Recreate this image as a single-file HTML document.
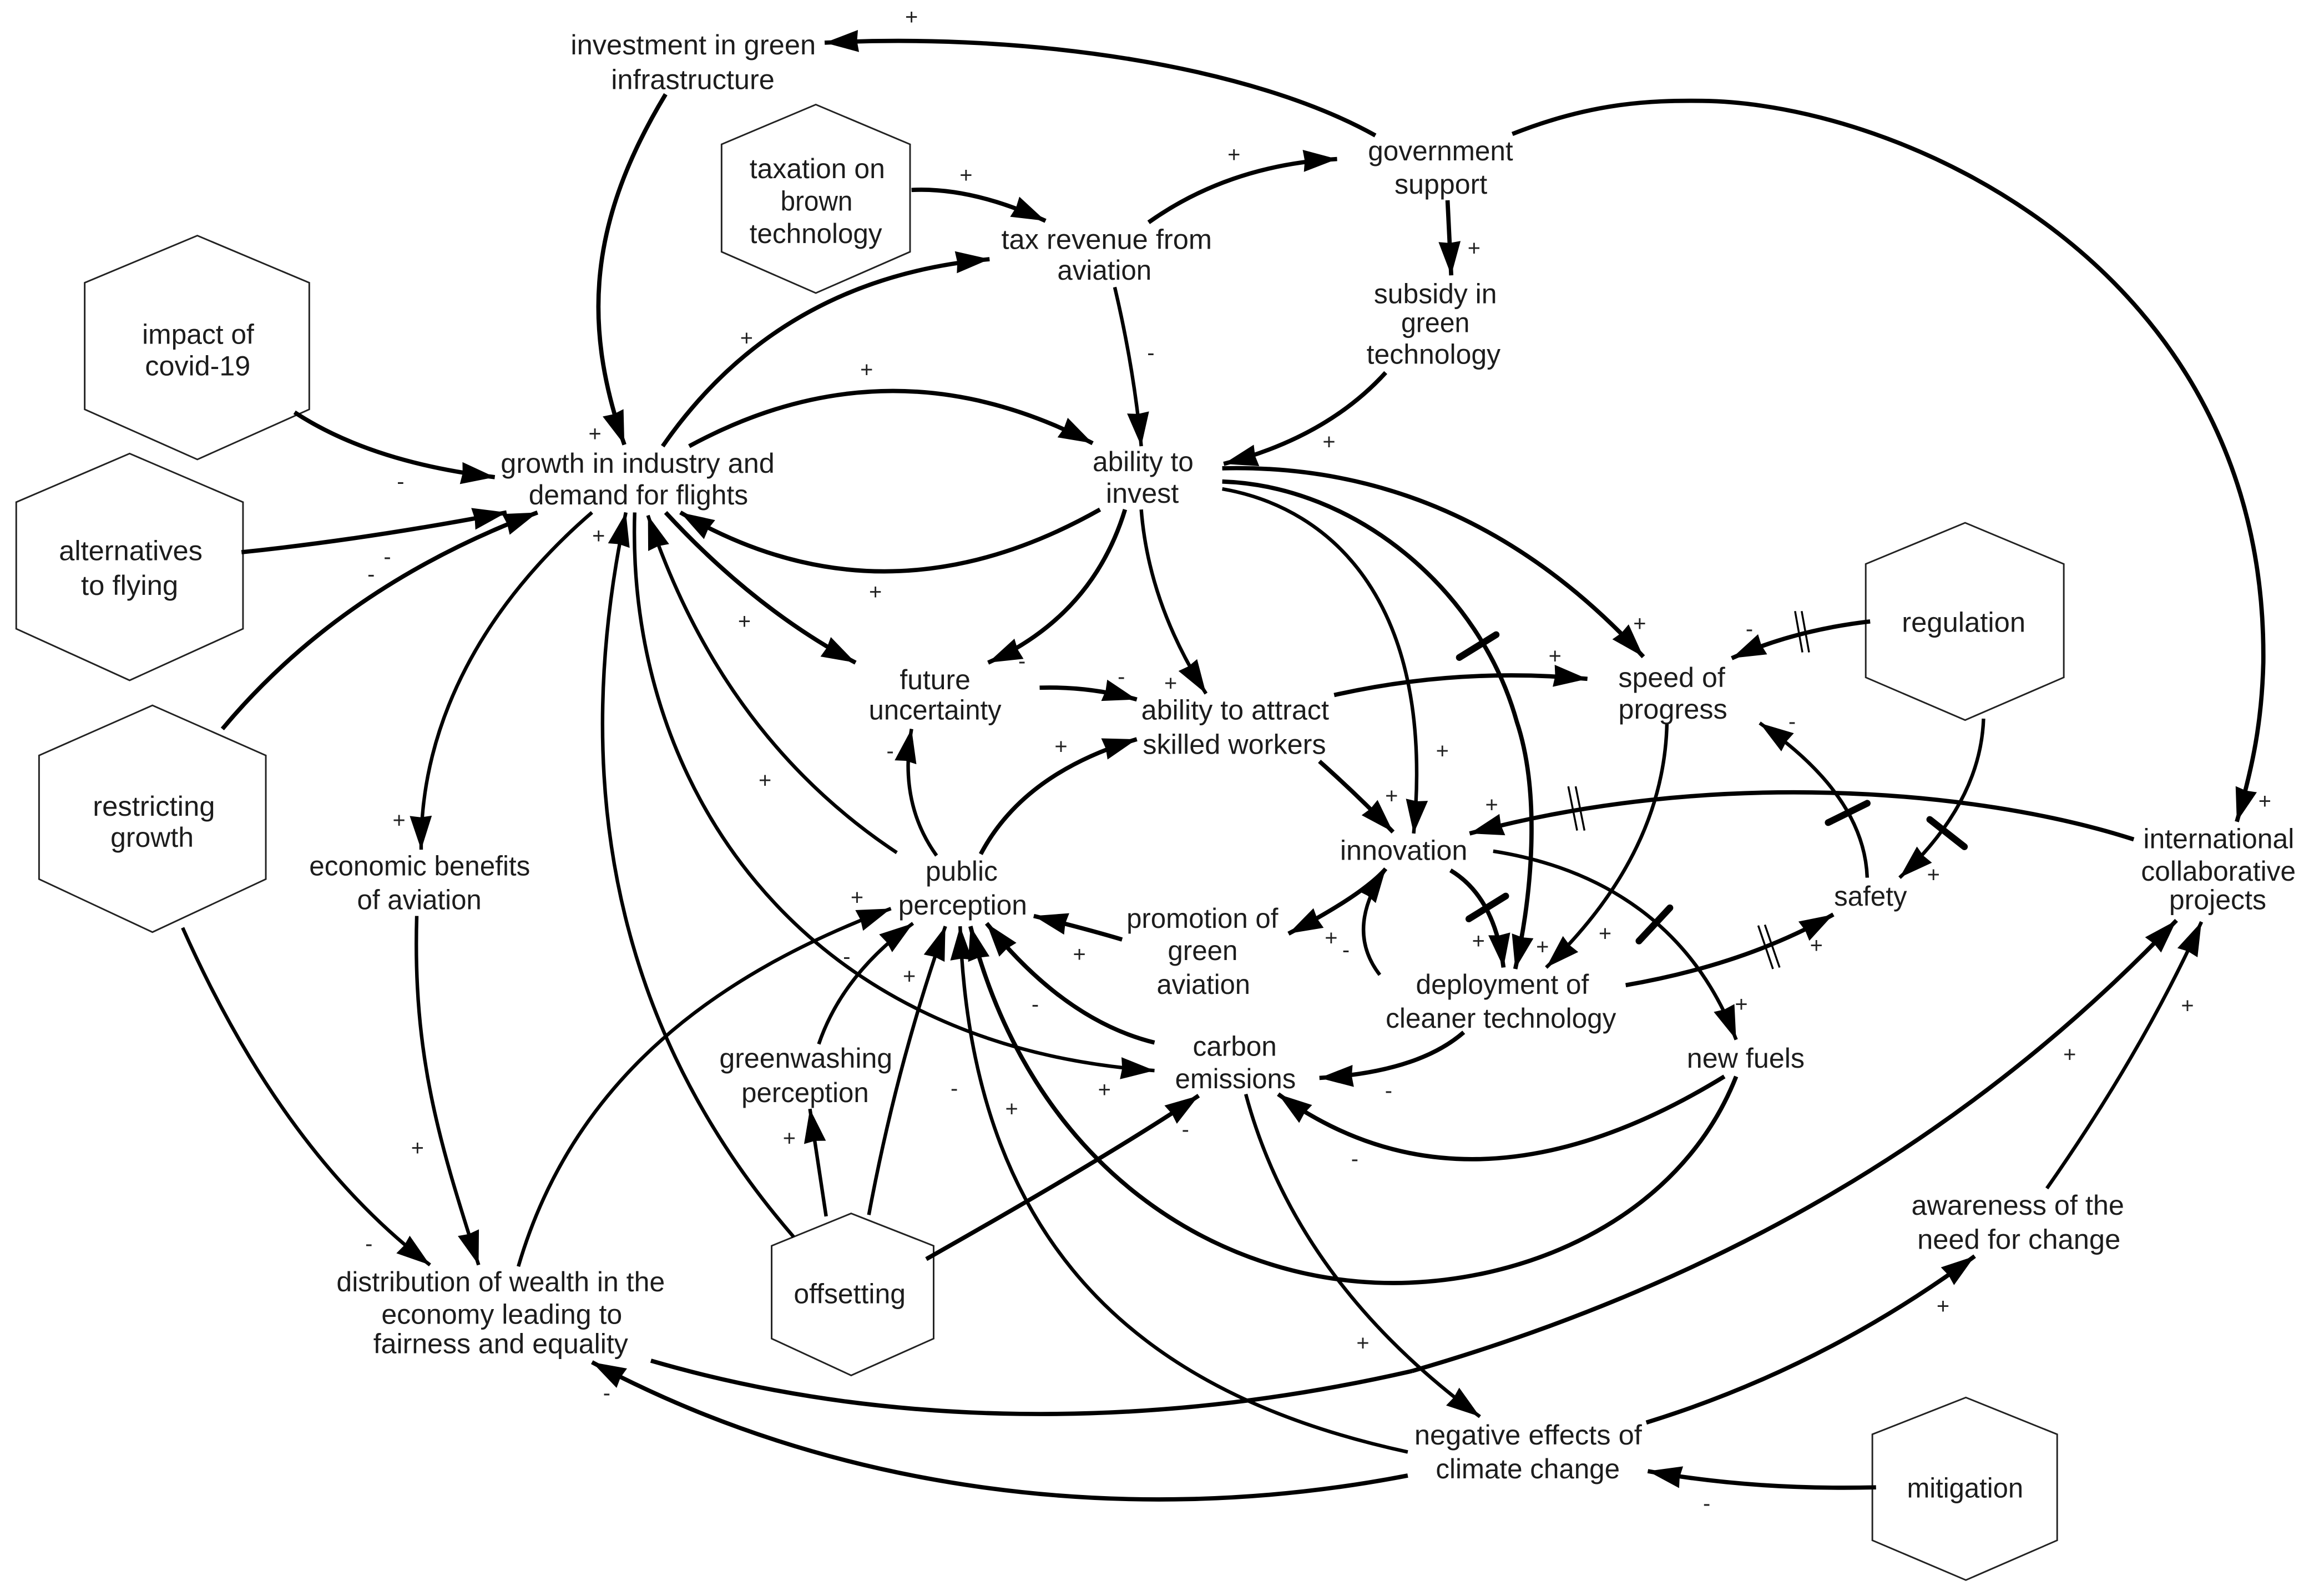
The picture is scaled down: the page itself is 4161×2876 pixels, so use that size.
<!DOCTYPE html>
<html lang="en">
<head>
<meta charset="utf-8">
<title>Causal loop diagram</title>
<style>
html,body{margin:0;padding:0;background:#fff;width:4161px;height:2876px;overflow:hidden}
svg{display:block}
.h{fill:#fff;stroke:#222;stroke-width:1.1}
.e{fill:none;stroke:#000;stroke-width:2.9;marker-end:url(#a)}
.t{fill:none;stroke:#000;stroke-width:2.4;marker-end:url(#a)}
.n{fill:none;stroke:#000;stroke-width:2.9}
.bar{stroke:#000;stroke-width:4.6;stroke-linecap:round}
.hat{stroke:#000;stroke-width:1.3}
text{font-family:"Liberation Sans",Arial,sans-serif;font-size:19px;fill:#1c1c1c}
.s{font-size:15px;text-anchor:middle;fill:#222}
</style>
</head>
<body>
<svg xmlns="http://www.w3.org/2000/svg" width="4161" height="2876" viewBox="0 0 1568 1083.8">
<defs>
<marker id="a" markerUnits="userSpaceOnUse" markerWidth="26" markerHeight="16" refX="23" refY="7.5" orient="auto" overflow="visible">
<path d="M0 0 L23 7.5 L0 15 L1 7.5 Z" fill="#000"/>
</marker>
</defs>
<rect width="1568" height="1083.8" fill="#fff"/>

<!-- hexagons -->
<polygon class="h" points="134,160 210,192 210,278 134,312 57.5,278 57.5,192"/>
<polygon class="h" points="88,308 165,341 165,427 88,462 11,427 11,341"/>
<polygon class="h" points="103.5,479 180.5,513 180.5,597 103.5,633 26.5,597 26.5,513"/>
<polygon class="h" points="554,71 618,98 618,171 554,199 490,171 490,98"/>
<polygon class="h" points="1334.5,355 1401.5,383 1401.5,460 1334.5,489 1267,460 1267,383"/>
<polygon class="h" points="578,824 634,846 634,909 578,934 524,909 524,846"/>
<polygon class="h" points="1335,949 1397,974 1397,1046 1335,1073 1271.5,1046 1271.5,974"/>

<!-- connectors -->
<path class="e" d="M934 92 C850 45 700 22 560 29"/>
<path class="e" d="M1027 91 C1080 70 1120 68 1156 68.5 C1290 70 1540 180 1537 450 C1536 490 1530 520 1519 558"/>
<path class="e" d="M619 129 Q660 127 710 150"/>
<path class="e" d="M780 151 Q835 112 908 108"/>
<path class="e" d="M983 136 L985.5 187"/>
<path class="e" d="M941 253 Q901 297 831 315"/>
<path class="t" d="M757 195 Q770 250 775 303"/>
<path class="e" d="M452 64 C400 150 395 220 424 302"/>
<path class="e" d="M200 280 Q252 314 336 324"/>
<path class="e" d="M164 375 Q250 366 344 348"/>
<path class="e" d="M151 495 Q232 398 365 348"/>
<path class="e" d="M450 303 Q529 189 672 176"/>
<path class="e" d="M468 303 Q604 229 742 301"/>
<path class="e" d="M747 346 Q600 429 462 348"/>
<path class="e" d="M452 348 Q513 414 581 450"/>
<path class="e" d="M764 346 Q742 418 671 450"/>
<path class="t" d="M775 346 Q780 410 819 471"/>
<path class="e" d="M830 318 Q995 314 1116 446"/>
<path class="e" d="M830 327 C920 330 1005 400 1030 490 C1045 535 1042 600 1029 658"/>
<path class="t" d="M830 332 C905 345 975 410 960 566"/>
<path class="e" d="M906 472 Q990 453 1078 461"/>
<path class="e" d="M896 517 Q922 540 946 565"/>
<path class="e" d="M1270 422 Q1218 428 1176 447"/>
<path class="t" d="M1347 488 Q1345 545 1290 596"/>
<path class="t" d="M1268 596 Q1266 540 1195 491"/>
<path class="e" d="M1449 570 C1340 535 1160 522 998 566"/>
<path class="t" d="M1132 491 Q1130 580 1050 657"/>
<path class="e" d="M985 591 Q1015 609 1021 657"/>
<path class="e" d="M941 590 Q925 608 875 634"/>
<path class="t" d="M937 662 Q913 631 941 590"/>
<path class="t" d="M1014 578 C1090 590 1150 630 1179 706"/>
<path class="e" d="M1104 669 Q1185 655 1245 621"/>
<path class="e" d="M994 701 Q963 728 896 732"/>
<path class="e" d="M1171 731 Q998 837 868 743"/>
<path class="e" d="M1179 731 C1140 830 1030 875 934 871 C820 866 700 790 659 629"/>
<path class="e" d="M784 708 Q723 693 670 627"/>
<path class="e" d="M762 638 Q735 630 702 622"/>
<path class="t" d="M539 840 C435 720 380 560 425 348"/>
<path class="t" d="M431 348 C425 530 540 710 784 727"/>
<path class="t" d="M609 579 Q490 500 440 350"/>
<path class="t" d="M636 581 Q610 545 619 495"/>
<path class="e" d="M666 580 Q695 525 772 502"/>
<path class="e" d="M706 467 Q740 466 772 475"/>
<path class="t" d="M402 348 C330 410 285 490 286 577"/>
<path class="t" d="M283 622 C280 720 300 780 325 859"/>
<path class="t" d="M124 630 Q192 783 292 859"/>
<path class="t" d="M352 860 C390 730 490 660 605 617"/>
<path class="t" d="M556 709 Q572 662 620 627"/>
<path class="t" d="M561 826 L550 753"/>
<path class="t" d="M590 825 Q609 723 642 629"/>
<path class="e" d="M629 855 Q758 782 814 744"/>
<path class="n" d="M442 924 C600 970 780 972 959 931"/>
<path class="e" d="M959 931 C1170 870 1340 770 1478 625"/>
<path class="t" d="M956 986 C790 950 660 860 652 629"/>
<path class="e" d="M956 1002 C760 1040 560 1010 402 925"/>
<path class="t" d="M846 743 Q880 870 1005 962"/>
<path class="e" d="M1118 966 Q1238 929 1341 853"/>
<path class="t" d="M1390 807 Q1455 714 1495 626"/>
<path class="e" d="M1274 1010 Q1190 1012 1119 999"/>

<!-- delay marks -->
<line class="bar" x1="991" y1="446.5" x2="1016" y2="431"/>
<line class="bar" x1="1310.5" y1="556.5" x2="1334" y2="575"/>
<line class="bar" x1="1241.5" y1="558.6" x2="1268" y2="545.5"/>
<line class="bar" x1="997.5" y1="624" x2="1022.5" y2="608.5"/>
<line class="bar" x1="1113" y1="639" x2="1134" y2="616.5"/>
<line class="hat" x1="1219" y1="415" x2="1224" y2="443"/>
<line class="hat" x1="1223.5" y1="415" x2="1228.5" y2="443"/>
<line class="hat" x1="1065" y1="534" x2="1071" y2="564"/>
<line class="hat" x1="1070" y1="534" x2="1076" y2="564"/>
<line class="hat" x1="1194" y1="628.5" x2="1204" y2="658"/>
<line class="hat" x1="1198.5" y1="628" x2="1208.5" y2="657"/>

<!-- labels -->
<text x="387.5" y="37" textLength="166.5" lengthAdjust="spacingAndGlyphs">investment in green</text>
<text x="415" y="60.5" textLength="111" lengthAdjust="spacingAndGlyphs">infrastructure</text>
<text x="509" y="121" textLength="92" lengthAdjust="spacingAndGlyphs">taxation on</text>
<text x="530" y="143" textLength="49" lengthAdjust="spacingAndGlyphs">brown</text>
<text x="509" y="165" textLength="90" lengthAdjust="spacingAndGlyphs">technology</text>
<text x="680" y="169" textLength="143" lengthAdjust="spacingAndGlyphs">tax revenue from</text>
<text x="718" y="190" textLength="64" lengthAdjust="spacingAndGlyphs">aviation</text>
<text x="929" y="109" textLength="98.5" lengthAdjust="spacingAndGlyphs">government</text>
<text x="947" y="131.5" textLength="63" lengthAdjust="spacingAndGlyphs">support</text>
<text x="933" y="206" textLength="83.5" lengthAdjust="spacingAndGlyphs">subsidy in</text>
<text x="951.5" y="225.5" textLength="46.5" lengthAdjust="spacingAndGlyphs">green</text>
<text x="928" y="247" textLength="91" lengthAdjust="spacingAndGlyphs">technology</text>
<text x="96.5" y="233.5" textLength="76" lengthAdjust="spacingAndGlyphs">impact of</text>
<text x="98.5" y="255" textLength="71.5" lengthAdjust="spacingAndGlyphs">covid-19</text>
<text x="40" y="380.5" textLength="97.5" lengthAdjust="spacingAndGlyphs">alternatives</text>
<text x="55" y="404" textLength="66" lengthAdjust="spacingAndGlyphs">to flying</text>
<text x="63" y="554" textLength="83" lengthAdjust="spacingAndGlyphs">restricting</text>
<text x="75" y="575" textLength="56.5" lengthAdjust="spacingAndGlyphs">growth</text>
<text x="340" y="321" textLength="186" lengthAdjust="spacingAndGlyphs">growth in industry and</text>
<text x="359" y="342.5" textLength="149" lengthAdjust="spacingAndGlyphs">demand for flights</text>
<text x="742" y="320" textLength="68.5" lengthAdjust="spacingAndGlyphs">ability to</text>
<text x="751" y="341.5" textLength="49.5" lengthAdjust="spacingAndGlyphs">invest</text>
<text x="611" y="468" textLength="48" lengthAdjust="spacingAndGlyphs">future</text>
<text x="590" y="488.5" textLength="90" lengthAdjust="spacingAndGlyphs">uncertainty</text>
<text x="775" y="488.5" textLength="127.5" lengthAdjust="spacingAndGlyphs">ability to attract</text>
<text x="776" y="512" textLength="124.5" lengthAdjust="spacingAndGlyphs">skilled workers</text>
<text x="1099" y="466.5" textLength="72.5" lengthAdjust="spacingAndGlyphs">speed of</text>
<text x="1099" y="488" textLength="74" lengthAdjust="spacingAndGlyphs">progress</text>
<text x="1291.5" y="429" textLength="84" lengthAdjust="spacingAndGlyphs">regulation</text>
<text x="910" y="584" textLength="86.5" lengthAdjust="spacingAndGlyphs">innovation</text>
<text x="628.5" y="598" textLength="49" lengthAdjust="spacingAndGlyphs">public</text>
<text x="610" y="621" textLength="87.5" lengthAdjust="spacingAndGlyphs">perception</text>
<text x="765" y="630" textLength="103" lengthAdjust="spacingAndGlyphs">promotion of</text>
<text x="793" y="652" textLength="47.5" lengthAdjust="spacingAndGlyphs">green</text>
<text x="785.5" y="675" textLength="63.5" lengthAdjust="spacingAndGlyphs">aviation</text>
<text x="961.5" y="675" textLength="117.5" lengthAdjust="spacingAndGlyphs">deployment of</text>
<text x="941" y="698" textLength="156.5" lengthAdjust="spacingAndGlyphs">cleaner technology</text>
<text x="1245.5" y="615" textLength="49.5" lengthAdjust="spacingAndGlyphs">safety</text>
<text x="1455.5" y="576" textLength="102.5" lengthAdjust="spacingAndGlyphs">international</text>
<text x="1454" y="598" textLength="105" lengthAdjust="spacingAndGlyphs">collaborative</text>
<text x="1473" y="617.5" textLength="66" lengthAdjust="spacingAndGlyphs">projects</text>
<text x="810" y="717" textLength="57" lengthAdjust="spacingAndGlyphs">carbon</text>
<text x="798" y="739" textLength="82" lengthAdjust="spacingAndGlyphs">emissions</text>
<text x="1145.5" y="725" textLength="80" lengthAdjust="spacingAndGlyphs">new fuels</text>
<text x="210" y="594.5" textLength="150" lengthAdjust="spacingAndGlyphs">economic benefits</text>
<text x="242.5" y="617.5" textLength="84.5" lengthAdjust="spacingAndGlyphs">of aviation</text>
<text x="488.5" y="725" textLength="117.5" lengthAdjust="spacingAndGlyphs">greenwashing</text>
<text x="503.5" y="748.5" textLength="86.5" lengthAdjust="spacingAndGlyphs">perception</text>
<text x="228.5" y="877" textLength="223" lengthAdjust="spacingAndGlyphs">distribution of wealth in the</text>
<text x="259" y="899" textLength="163.5" lengthAdjust="spacingAndGlyphs">economy leading to</text>
<text x="253.5" y="919" textLength="173" lengthAdjust="spacingAndGlyphs">fairness and equality</text>
<text x="539" y="885" textLength="76" lengthAdjust="spacingAndGlyphs">offsetting</text>
<text x="1298" y="825" textLength="144.5" lengthAdjust="spacingAndGlyphs">awareness of the</text>
<text x="1302" y="848" textLength="138" lengthAdjust="spacingAndGlyphs">need for change</text>
<text x="960.5" y="981" textLength="154.5" lengthAdjust="spacingAndGlyphs">negative effects of</text>
<text x="975" y="1004" textLength="125" lengthAdjust="spacingAndGlyphs">climate change</text>
<text x="1295" y="1017" textLength="79" lengthAdjust="spacingAndGlyphs">mitigation</text>

<!-- polarity signs -->
<g>
<text class="s" x="619" y="16.5">+</text>
<text class="s" x="656" y="124">+</text>
<text class="s" x="507" y="234.5">+</text>
<text class="s" x="588.5" y="256">+</text>
<text class="s" x="404" y="299.5">+</text>
<text class="s" x="272" y="332">-</text>
<text class="s" x="406.5" y="369">+</text>
<text class="s" x="263" y="383">-</text>
<text class="s" x="252" y="395">-</text>
<text class="s" x="594.5" y="407">+</text>
<text class="s" x="505.5" y="427">+</text>
<text class="s" x="694" y="454">-</text>
<text class="s" x="761.5" y="464.5">-</text>
<text class="s" x="720.5" y="512">+</text>
<text class="s" x="604.5" y="515">-</text>
<text class="s" x="519.5" y="535">+</text>
<text class="s" x="781.5" y="244.5">-</text>
<text class="s" x="838" y="110">+</text>
<text class="s" x="1001" y="173.5">+</text>
<text class="s" x="902.5" y="305">+</text>
<text class="s" x="1113.5" y="428.5">+</text>
<text class="s" x="1188" y="432">-</text>
<text class="s" x="1056" y="450.5">+</text>
<text class="s" x="795" y="469">+</text>
<text class="s" x="1217" y="495">-</text>
<text class="s" x="979.5" y="515">+</text>
<text class="s" x="945" y="545.5">+</text>
<text class="s" x="1538" y="549">+</text>
<text class="s" x="1013" y="551.5">+</text>
<text class="s" x="271" y="562">+</text>
<text class="s" x="582" y="614.5">+</text>
<text class="s" x="575" y="654.5">-</text>
<text class="s" x="733" y="653">+</text>
<text class="s" x="617.5" y="668">+</text>
<text class="s" x="703" y="687">-</text>
<text class="s" x="648" y="744">-</text>
<text class="s" x="750" y="745">+</text>
<text class="s" x="687" y="758">+</text>
<text class="s" x="283.5" y="784.5">+</text>
<text class="s" x="536" y="778">+</text>
<text class="s" x="250.5" y="849.5">-</text>
<text class="s" x="412" y="951">-</text>
<text class="s" x="1313" y="599">+</text>
<text class="s" x="904" y="642">+</text>
<text class="s" x="914" y="650">-</text>
<text class="s" x="1004" y="644">+</text>
<text class="s" x="1047.5" y="648">+</text>
<text class="s" x="1090" y="639">+</text>
<text class="s" x="1233.5" y="647">+</text>
<text class="s" x="1182.5" y="687">+</text>
<text class="s" x="1485.5" y="688">+</text>
<text class="s" x="1405.5" y="721">+</text>
<text class="s" x="943" y="745.5">-</text>
<text class="s" x="805" y="772">-</text>
<text class="s" x="920" y="792">-</text>
<text class="s" x="1319.5" y="892">+</text>
<text class="s" x="925.5" y="917">+</text>
<text class="s" x="1159" y="1026">-</text>
</g>
</svg>
</body>
</html>
